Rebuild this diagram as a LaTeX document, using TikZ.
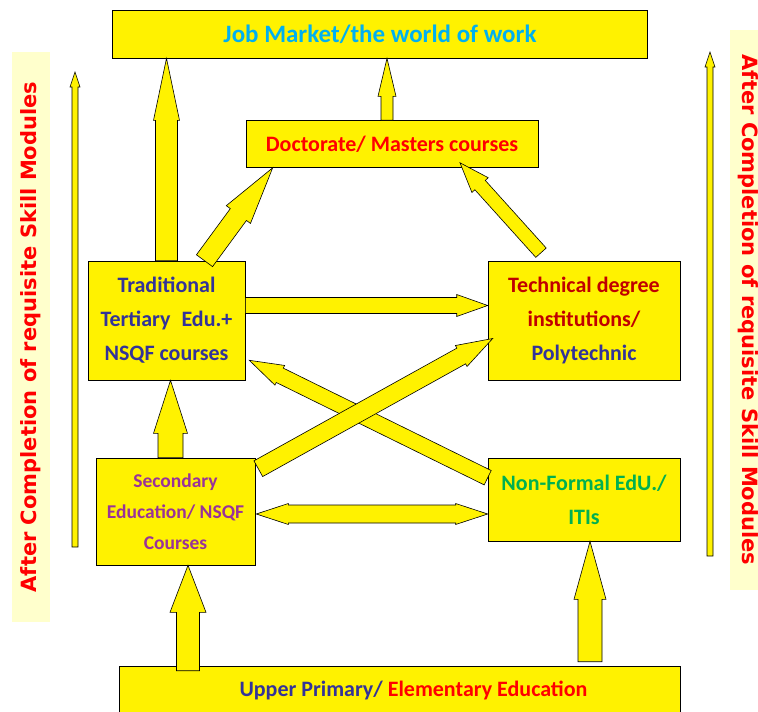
\documentclass[tikz,border=0pt]{standalone}
\usepackage{fontspec}
\setmainfont{Carlito}
\newfontfamily\sidefont{DejaVu Sans}
\usetikzlibrary{calc}
\definecolor{jobblue}{RGB}{0,176,240}
\definecolor{navy}{RGB}{51,51,153}
\definecolor{plum}{RGB}{153,51,153}
\definecolor{darkred}{RGB}{192,0,0}
\definecolor{leaf}{RGB}{0,176,80}
\definecolor{cream}{RGB}{255,255,204}
% block arrow: from, to, half shaft, half head, head length
\newcommand\blockarrow[5]{\draw[blk] let \p1=#1, \p2=#2, \p3=($(\p2)!#5!(\p1)$) in
  ($(\p1)!#3!90:(\p2)$) -- ($(\p3)!#3!-90:(\p1)$) -- ($(\p3)!#4!-90:(\p1)$) -- (\p2)
  -- ($(\p3)!#4!90:(\p1)$) -- ($(\p3)!#3!90:(\p1)$) -- ($(\p1)!#3!-90:(\p2)$) -- cycle;}
\newcommand\dblarrow[5]{\draw[blk] let \p1=#1, \p2=#2, \p3=($(\p2)!#5!(\p1)$), \p4=($(\p1)!#5!(\p2)$) in
  (\p1) -- ($(\p4)!#4!90:(\p2)$) -- ($(\p4)!#3!90:(\p2)$) -- ($(\p3)!#3!-90:(\p1)$) -- ($(\p3)!#4!-90:(\p1)$)
  -- (\p2) -- ($(\p3)!#4!90:(\p1)$) -- ($(\p3)!#3!90:(\p1)$) -- ($(\p4)!#3!-90:(\p2)$) -- ($(\p4)!#4!-90:(\p2)$) -- cycle;}
\begin{document}
\begin{tikzpicture}[x=1pt,y=-1pt,
    box/.style={draw=black, line width=0.6pt, fill=yellow, align=center, inner sep=0pt,
      font=\fontsize{22}{34}\selectfont\bfseries},
    side/.style={fill=cream, text=red, inner sep=0pt, font=\sidefont\fontsize{21}{24}\selectfont\bfseries},
    blk/.style={draw=black, line width=0.6pt, fill=yellow}]
  \useasboundingbox (0,0) rectangle (758,712);
  \node (job) [box, minimum width=535pt, minimum height=48pt, text=jobblue,
    font=\fontsize{25}{30}\selectfont\bfseries] at (380,34) {Job Market/the world of work};
  \node (doc) [box, minimum width=292pt, minimum height=47pt, text=red] at (392,144) {Doctorate/ Masters courses};
  \node (trad) [box, minimum width=157pt, minimum height=119pt, text=navy] at (166.5,320.5)
    {Traditional\\Tertiary\enspace Edu.+\\NSQF courses};
  \node (tech) [box, minimum width=192pt, minimum height=119pt, text=darkred] at (584,320.5)
    {Technical degree\\institutions/\\{\color{navy}Polytechnic}};
  \node (sec) [box, minimum width=159pt, minimum height=107pt, text=plum,
    font=\fontsize{19.5}{31}\selectfont\bfseries] at (175.5,511.5) {Secondary\\Education/ NSQF\\Courses};
  \node (nonf) [box, minimum width=192pt, minimum height=83pt, text=leaf] at (584,499.5) {Non-Formal EdU./\\ITIs};
  \node (upper) [box, minimum width=561pt, minimum height=48pt, text=navy] at (399.5,690)
    {\hspace*{28pt}Upper Primary/ \textcolor{red}{Elementary Education}};
  \node (lside) [side, rotate=90, minimum width=570pt, minimum height=38pt] at (31,337)
    {After Completion of requisite Skill Modules};
  \node (rside) [side, rotate=-90, minimum width=560pt, minimum height=36pt] at (748,310)
    {After Completion of requisite Skill Modules};
  \coordinate (lbot) at (75,547);
  \coordinate (ltop) at (75,72);
  \coordinate (rbot) at (710,556);
  \coordinate (rtop) at (710,52);
  \blockarrow{(lbot)}{(ltop)}{3pt}{5pt}{15pt}
  \blockarrow{(rbot)}{(rtop)}{3pt}{5pt}{15pt}
  \blockarrow{(trad.north)}{(trad.north |- job.south)}{11pt}{13pt}{62pt}
  \blockarrow{($(doc.north)+(-5,0)$)}{($(doc.north |- job.south)+(-5,0)$)}{6pt}{9pt}{38pt}
  \blockarrow{($(trad.north)+(38,0)$)}{($(doc.south west)+(27,0)$)}{10pt}{15pt}{58pt}
  \blockarrow{($(tech.north)+(-43,-8)$)}{($(doc.south)+(68,-5)$)}{7pt}{11pt}{30pt}
  \blockarrow{($(trad.east)+(0,-15)$)}{($(tech.west)+(0,-15)$)}{8pt}{11pt}{31pt}
  \blockarrow{($(nonf.north west)+(0,20)$)}{($(trad.south east)+(4,-20)$)}{8pt}{11pt}{34pt}
  \blockarrow{($(sec.north east)+(3,11)$)}{($(tech.west)+(5,18)$)}{9pt}{12pt}{36pt}
  \dblarrow{($(sec.east)+(1,2.5)$)}{($(nonf.west)+(0,14.5)$)}{9pt}{10.5pt}{32pt}
  \blockarrow{($(sec.north)+(-5,0)$)}{($(sec.north |- trad.south)+(-5,0)$)}{12.5pt}{17pt}{53pt}
  \blockarrow{($(sec.south |- upper.north)+(12.5,5)$)}{($(sec.south)+(12.5,0)$)}{11.5pt}{18pt}{47pt}
  \blockarrow{($(nonf.south |- upper.north)+(6,-4)$)}{($(nonf.south)+(6,0)$)}{12pt}{16pt}{58pt}
\end{tikzpicture}
\end{document}
